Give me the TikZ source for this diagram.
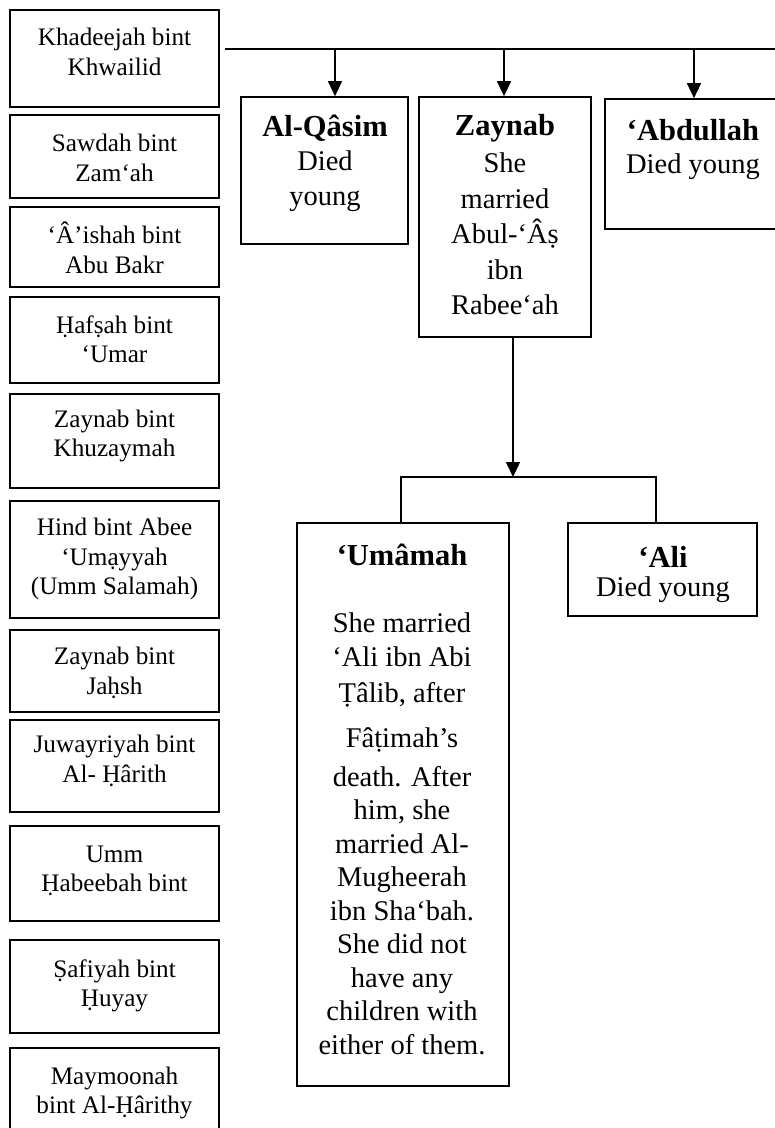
\documentclass[tikz,border=0pt]{standalone}
\usepackage{fontspec}
\setmainfont{Liberation Serif}
\usetikzlibrary{arrows.meta}
\begin{document}
\begin{tikzpicture}[x=1pt,y=-1pt,
  box/.style={draw=black, line width=1.7pt, rectangle, inner sep=0pt},
  ltxt/.style={align=center, font=\fontsize{25.2}{29.5}\selectfont, inner sep=0pt},
  ttl/.style={align=center, font=\bfseries\fontsize{30.5}{35}\selectfont, inner sep=0pt},
  btxt/.style={align=center, font=\fontsize{28.5}{35.4}\selectfont, inner sep=0pt},
  conn/.style={line width=1.5pt},
  arr/.style={line width=1.5pt, -{Triangle[width=14pt,length=15pt]}}]
\useasboundingbox[fill=white] (0,0) rectangle (775,1128);

% wives column
\node[box, minimum width=209, minimum height=97] (w1) at (114.5,58.5) {};
\node[ltxt] (w1t) at (114.5,52) {Khadeejah bint\\Khwailid};
\node[box, minimum width=209, minimum height=83] (w2) at (114.5,156.5) {};
\node[ltxt] (w2t) at (114.5,158) {Sawdah bint\\Zam‘ah};
\node[box, minimum width=209, minimum height=80] (w3) at (114.5,247) {};
\node[ltxt] (w3t) at (114.5,248) {‘Â’ishah bint\\Abu Bakr};
\node[box, minimum width=209, minimum height=86] (w4) at (114.5,340) {};
\node[ltxt] (w4t) at (114.5,339) {Ḥafṣah bint\\‘Umar};
\node[box, minimum width=209, minimum height=94] (w5) at (114.5,441) {};
\node[ltxt] (w5t) at (114.5,436) {Zaynab bint\\Khuzaymah};
\node[box, minimum width=209, minimum height=117] (w6) at (114.5,559.5) {};
\node[ltxt] (w6t) at (114.5,559) {Hind bint Abee\\‘Umạyyah\\(Umm Salamah)};
\node[box, minimum width=209, minimum height=82] (w7) at (114.5,671) {};
\node[ltxt] (w7t) at (114.5,673) {Zaynab bint\\Jaḥsh};
\node[box, minimum width=209, minimum height=92] (w8) at (114.5,766) {};
\node[ltxt] (w8t) at (114.5,761) {Juwayriyah bint\\Al- Ḥârith};
\node[box, minimum width=209, minimum height=95] (w9) at (114.5,873.5) {};
\node[ltxt] (w9t) at (114.5,871) {Umm\\Ḥabeebah bint};
\node[box, minimum width=209, minimum height=93] (w10) at (114.5,986.5) {};
\node[ltxt] (w10t) at (114.5,986) {Ṣafiyah bint\\Ḥuyay};
\node[box, minimum width=209, minimum height=92] (w11) at (114.5,1094) {};
\node[ltxt] (w11t) at (114.5,1093) {Maymoonah\\bint Al-Ḥârithy};

% children
\node[box, minimum width=167, minimum height=147] (qasim) at (324.5,170.5) {};
\node[ttl] (qasimh) at (325,128) {Al-Qâsim};
\node[btxt] (qasimt) at (325,181) {Died\\young};
\node[box, minimum width=172, minimum height=240] (zaynab) at (505,217) {};
\node[ttl] (zaynabh) at (505,128) {Zaynab};
\node[btxt] (zaynabt) at (505,234) {She\\married\\Abul-‘Âṣ\\ibn\\Rabee‘ah};
\node[box, minimum width=185, minimum height=130] (abd) at (697.5,164) {};
\node[ttl] (abdh) at (693,130) {‘Abdullah};
\node[btxt] (abdt) at (693,167) {Died young};

% grandchildren
\node[box, minimum width=212, minimum height=563] (umamah) at (403,804.5) {};
\node[ttl] (umamahh) at (402,555) {‘Umâmah};
\node[btxt, font=\fontsize{28.5}{33.5}\selectfont] (umamaht) at (402,834) {She married\\‘Ali ibn Abi\\[2.5pt]Ṭâlib, after\\[11.5pt]Fâṭimah’s\\[5.5pt]death. After\\him, she\\married Al-\\Mugheerah\\ibn Sha‘bah.\\She did not\\have any\\children with\\either of them.};
\node[box, minimum width=189, minimum height=93] (ali) at (662.5,569.5) {};
\node[ttl] (alih) at (663,557) {‘Ali};
\node[btxt] (alit) at (663,590) {Died young};

% connectors
\coordinate (hl) at (225,49);
\coordinate (hr) at (780,49);
\draw[conn] (hl) -- (hr);
\coordinate (a1) at (335,49);
\coordinate (a2) at (504,49);
\coordinate (a3) at (694,49);
\draw[arr] (a1) -- (a1 |- qasim.north);
\draw[arr] (a2) -- (a2 |- zaynab.north);
\draw[arr] (a3) -- (a3 |- abd.north);
\coordinate (zd) at (513,477);
\draw[arr] (zd |- zaynab.south) -- (zd);
\coordinate (bl) at (401,477);
\coordinate (br) at (656,477);
\draw[conn] (bl |- umamah.north) -- (bl) -- (br) -- (br |- ali.north);
\end{tikzpicture}
\end{document}
